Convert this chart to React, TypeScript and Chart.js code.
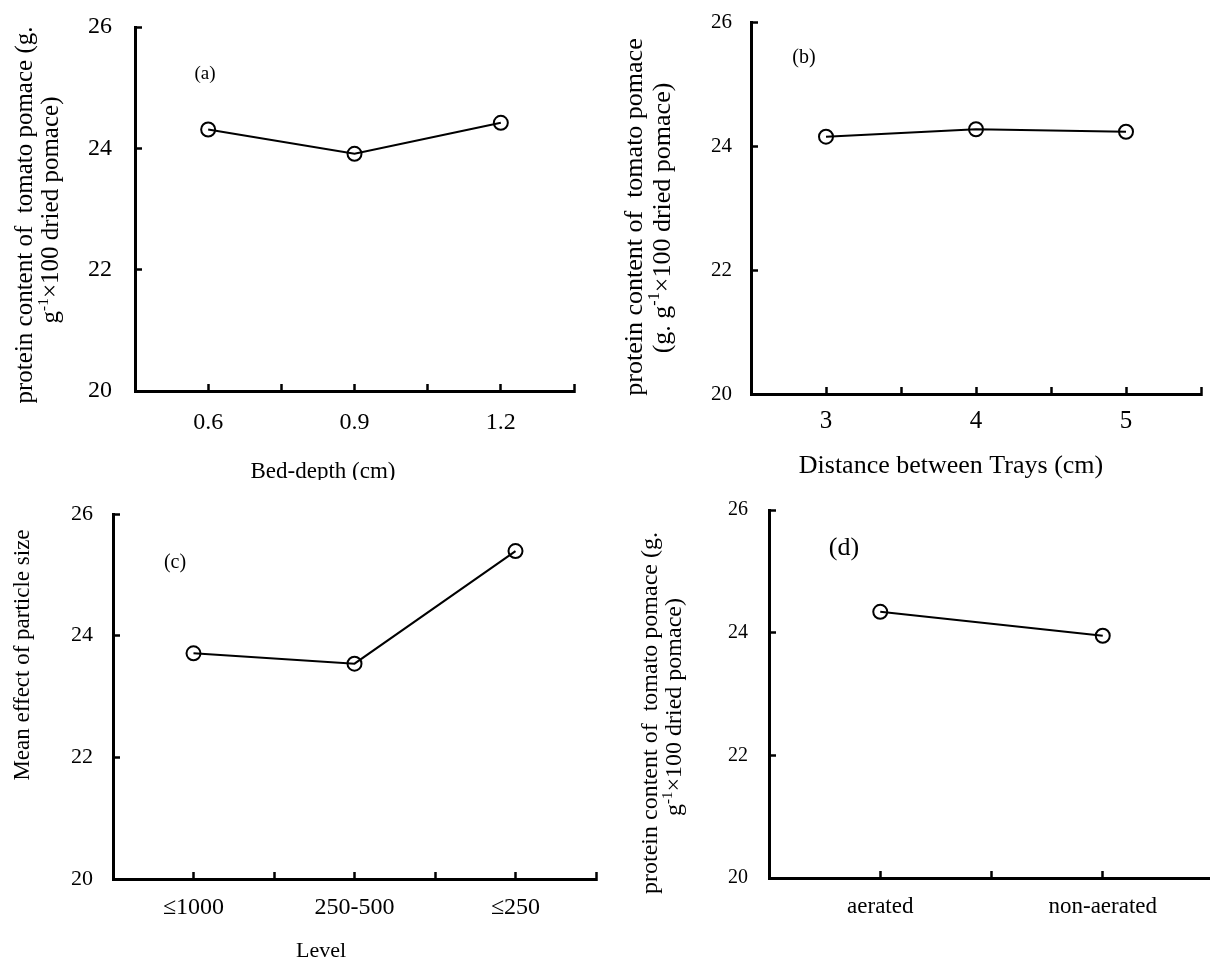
import React, { useEffect, useRef } from 'react';
import { Chart, registerables } from 'chart.js';

Chart.register(...registerables);

const SERIF = '"Liberation Serif", "Times New Roman", Times, serif';

// ---------------- data ----------------
const bedDepthCm = [0.6, 0.9, 1.2];
const bedDepthTickLabels = ['0.6', '0.9', '1.2'];
const bedDepthProtein = [24.31, 23.91, 24.42];

const trayDistanceCm = [3, 4, 5];
const trayDistanceTickLabels = ['3', '4', '5'];
const trayDistanceProtein = [24.15, 24.27, 24.23];

const particleLevels = ['≤1000', '250-500', '≤250'];
const particleProtein = [23.71, 23.54, 25.39];

const aerationLevels = ['aerated', 'non-aerated'];
const aerationProtein = [24.34, 23.95];

const yTickValues = [20, 22, 24, 26];

// ---------------- text plugin (titles & panel letters) ----------------
type Run = { t: string; sup?: boolean };
type TextItem = { runs: Run[]; x: number; y: number; size: number; rot?: boolean };

const panelTextPlugin = {
  id: 'panelText',
  afterDraw(chart: any, _args: any, opts: any) {
    const items: TextItem[] = (opts && opts.items) || [];
    const ctx = chart.ctx;
    items.forEach((it) => {
      ctx.save();
      ctx.fillStyle = '#000';
      ctx.textAlign = 'left';
      ctx.textBaseline = 'alphabetic';
      const supSize = it.size * 0.62;
      const widths = it.runs.map((r) => {
        ctx.font = `${r.sup ? supSize : it.size}px ${SERIF}`;
        return ctx.measureText(r.t).width;
      });
      const total = widths.reduce((a, b) => a + b, 0);
      ctx.translate(it.x, it.y);
      if (it.rot) ctx.rotate(-Math.PI / 2);
      let cx = -total / 2;
      const base = it.size * 0.34;
      it.runs.forEach((r, i) => {
        ctx.font = `${r.sup ? supSize : it.size}px ${SERIF}`;
        ctx.fillText(r.t, cx, r.sup ? base - it.size * 0.4 : base);
        cx += widths[i];
      });
      ctx.restore();
    });
  },
};
Chart.register(panelTextPlugin);

// ---------------- chart builder ----------------
interface PanelSpec {
  xs: number[];
  ys: number[];
  labels: string[];
  area: { left: number; top: number; right: number; bottom: number };
  canvasW: number;
  canvasH: number;
  xFont: number;
  yFont: number;
  xPad: number;
  yPad: number;
  texts: TextItem[];
}

function tickPositions(xs: number[]): number[] {
  const half = (xs[1] - xs[0]) / 2;
  const out: number[] = [];
  xs.forEach((v) => {
    out.push(v - half);
    out.push(v);
  });
  out.push(xs[xs.length - 1] + half);
  return out;
}

function zeroPad(scale: any) {
  scale.paddingLeft = 0;
  scale.paddingRight = 0;
  scale.paddingTop = 0;
  scale.paddingBottom = 0;
}

function buildConfig(p: PanelSpec): any {
  const xt = tickPositions(p.xs);
  const TICK = -7;
  return {
    type: 'line',
    data: {
      datasets: [
        {
          data: p.xs.map((x, i) => ({ x, y: p.ys[i] })),
          borderColor: '#000',
          borderWidth: 2,
          tension: 0,
          pointStyle: 'circle',
          pointRadius: 7,
          pointBorderWidth: 2,
          pointBorderColor: '#000',
          pointBackgroundColor: 'rgba(255,255,255,0)',
          clip: false,
        },
      ],
    },
    options: {
      animation: false,
      responsive: false,
      maintainAspectRatio: false,
      events: [],
      layout: {
        padding: {
          left: 0,
          top: p.area.top,
          right: p.canvasW - p.area.right,
          bottom: 0,
        },
      },
      plugins: {
        legend: { display: false },
        tooltip: { enabled: false },
        panelText: { items: p.texts },
      },
      scales: {
        x: {
          type: 'linear',
          min: xt[0],
          max: xt[xt.length - 1],
          afterBuildTicks: (scale: any) => {
            scale.ticks = xt.map((v) => ({ value: v }));
          },
          afterFit: (scale: any) => {
            scale.height = p.canvasH - p.area.bottom;
            zeroPad(scale);
          },
          ticks: {
            autoSkip: false,
            maxRotation: 0,
            minRotation: 0,
            padding: p.xPad,
            color: '#000',
            font: { family: SERIF, size: p.xFont },
            callback: (v: number) => {
              const i = p.xs.findIndex((x) => Math.abs(x - v) < 1e-6);
              return i >= 0 ? p.labels[i] : '';
            },
          },
          grid: {
            drawOnChartArea: false,
            drawTicks: true,
            tickLength: TICK,
            tickWidth: 2.5,
            tickColor: '#000',
            color: '#000',
          },
          border: { display: true, color: '#000', width: 3 },
        },
        y: {
          type: 'linear',
          min: yTickValues[0],
          max: yTickValues[yTickValues.length - 1],
          afterBuildTicks: (scale: any) => {
            scale.ticks = yTickValues.map((v) => ({ value: v }));
          },
          afterFit: (scale: any) => {
            scale.width = p.area.left;
            zeroPad(scale);
          },
          ticks: {
            padding: p.yPad,
            color: '#000',
            font: { family: SERIF, size: p.yFont },
            callback: (v: number) => String(v),
          },
          grid: {
            drawOnChartArea: false,
            drawTicks: true,
            tickLength: TICK,
            tickWidth: 2.5,
            tickColor: '#000',
            color: '#000',
          },
          border: { display: true, color: '#000', width: 3 },
        },
      },
    },
  };
}

// ---------------- panels ----------------
const panelA: PanelSpec = {
  xs: bedDepthCm,
  ys: bedDepthProtein,
  labels: bedDepthTickLabels,
  area: { left: 135, top: 27, right: 574, bottom: 391 },
  canvasW: 605,
  canvasH: 480,
  xFont: 24,
  yFont: 24,
  xPad: 24.6,
  yPad: 30,
  texts: [
    { runs: [{ t: 'protein content of  tomato pomace (g.' }], x: 23, y: 215, size: 25, rot: true },
    { runs: [{ t: 'g' }, { t: '-1', sup: true }, { t: '×100 dried pomace)' }], x: 49, y: 210, size: 25, rot: true },
    { runs: [{ t: 'Bed-depth (cm)' }], x: 323, y: 470, size: 23 },
    { runs: [{ t: '(a)' }], x: 205, y: 73, size: 19 },
  ],
};

const panelB: PanelSpec = {
  xs: trayDistanceCm,
  ys: trayDistanceProtein,
  labels: trayDistanceTickLabels,
  area: { left: 146, top: 22, right: 597, bottom: 394 },
  canvasW: 605,
  canvasH: 480,
  xFont: 25,
  yFont: 21,
  xPad: 19.5,
  yPad: 26,
  texts: [
    { runs: [{ t: 'protein content of  tomato pomace' }], x: 28, y: 217, size: 26, rot: true },
    { runs: [{ t: '(g. g' }, { t: '-1', sup: true }, { t: '×100 dried pomace)' }], x: 56, y: 218, size: 26, rot: true },
    { runs: [{ t: 'Distance between Trays (cm)' }], x: 346, y: 464, size: 26 },
    { runs: [{ t: '(b)' }], x: 199, y: 56, size: 20 },
  ],
};

const panelC: PanelSpec = {
  xs: particleLevels.map((_, i) => i + 1),
  ys: particleProtein,
  labels: particleLevels,
  area: { left: 113, top: 34, right: 596, bottom: 399 },
  canvasW: 605,
  canvasH: 481,
  xFont: 24,
  yFont: 22,
  xPad: 21.6,
  yPad: 27,
  texts: [
    { runs: [{ t: 'Mean effect of particle size' }], x: 21, y: 175, size: 23, rot: true },
    { runs: [{ t: 'Level' }], x: 321, y: 470, size: 22 },
    { runs: [{ t: '(c)' }], x: 175, y: 81, size: 20 },
  ],
};

const panelD: PanelSpec = {
  xs: aerationLevels.map((_, i) => i + 1),
  ys: aerationProtein,
  labels: aerationLevels,
  area: { left: 164, top: 30, right: 609, bottom: 398 },
  canvasW: 620,
  canvasH: 481,
  xFont: 23,
  yFont: 20,
  xPad: 22.5,
  yPad: 28,
  texts: [
    { runs: [{ t: 'protein content of  tomato pomace (g.' }], x: 44, y: 233, size: 24, rot: true },
    { runs: [{ t: 'g' }, { t: '-1', sup: true }, { t: '×100 dried pomace)' }], x: 68, y: 227, size: 24, rot: true },
    { runs: [{ t: '(d)' }], x: 239, y: 66, size: 26 },
  ],
};

function Panel({ spec, left, top }: { spec: PanelSpec; left: number; top: number }) {
  const ref = useRef<HTMLCanvasElement | null>(null);
  useEffect(() => {
    if (!ref.current) return;
    const chart = new Chart(ref.current, buildConfig(spec));
    return () => chart.destroy();
  }, [spec]);
  return (
    <canvas
      ref={ref}
      width={spec.canvasW}
      height={spec.canvasH}
      style={{ position: 'absolute', left, top, width: spec.canvasW, height: spec.canvasH }}
    />
  );
}

export default function App() {
  return (
    <div
      style={{
        position: 'absolute',
        left: 0,
        top: 0,
        width: 1210,
        height: 961,
        overflow: 'hidden',
        background: '#fff',
      }}
    >
      <Panel spec={panelA} left={0} top={0} />
      <Panel spec={panelB} left={605} top={0} />
      <Panel spec={panelC} left={0} top={480} />
      <Panel spec={panelD} left={605} top={480} />
    </div>
  );
}
